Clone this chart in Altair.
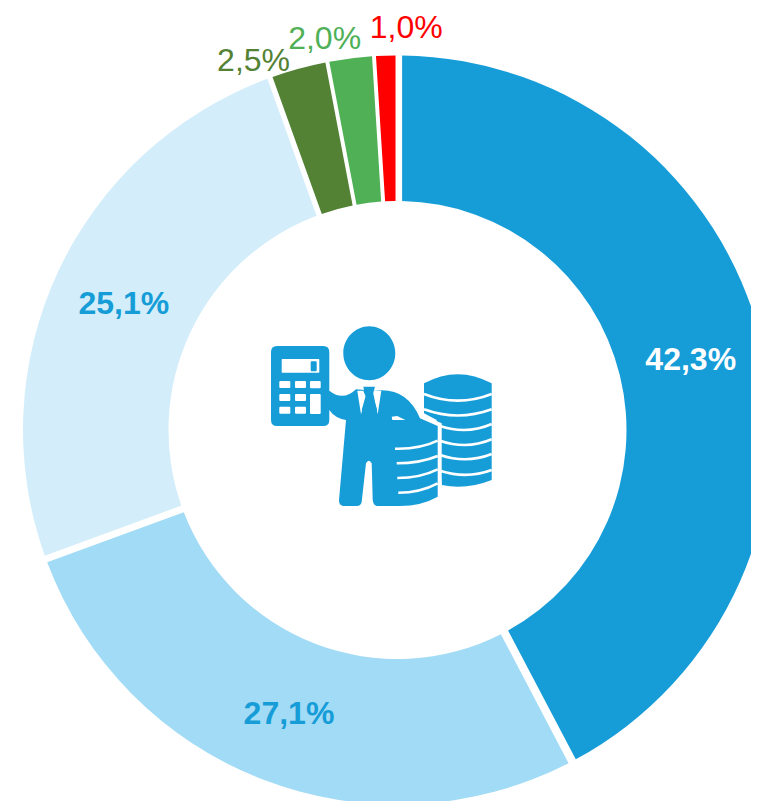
import math
import altair as alt
import pandas as pd

labels = ["42,3%", "27,1%", "25,1%", "2,5%", "2,0%", "1,0%"]
values = [42.3, 27.1, 25.1, 2.5, 2.0, 1.0]
colors = ["#169dd8", "#a2dbf5", "#d3eefa", "#548235", "#4fb056", "#ff0000"]
text_colors = ["#ffffff", "#169dd8", "#169dd8", "#548235", "#4fb056", "#ff0000"]

starts, ends = [], []
total = 0.0
for v in values:
    starts.append(total)
    total += v
    ends.append(total)
df = pd.DataFrame({"label": labels, "value": values, "start": starts, "end": ends,
                   "mid": [(a + b) / 2 for a, b in zip(starts, ends)],
                   "color": colors, "text_color": text_colors})

CX, CY = 397.5, 430.0
X0, Y0 = CX - 8, CY - 8
theta_scale = alt.Scale(domain=[0, 100], range=[0, 2 * math.pi])
FONT = "Liberation Sans"


def z(x, y):
    """zoomed-crop coordinates of the icon -> path units around the ring's centre"""
    return f"{260 + x / 3 - CX:.1f} {320 + y / 3 - CY:.1f}"


def poly(pts):
    return "M" + " L".join(z(*p) for p in pts) + " Z"


def rrect(x0, y0, x1, y1, r):
    return (f"M{z(x0 + r, y0)} L{z(x1 - r, y0)} Q{z(x1, y0)} {z(x1, y0 + r)} "
            f"L{z(x1, y1 - r)} Q{z(x1, y1)} {z(x1 - r, y1)} L{z(x0 + r, y1)} "
            f"Q{z(x0, y1)} {z(x0, y1 - r)} L{z(x0, y0 + r)} Q{z(x0, y0)} {z(x0 + r, y0)} Z")


def ell(cx, cy, rx, ry):
    return (f"M{z(cx - rx, cy)} C{z(cx - rx, cy - ry * .55)} {z(cx - rx * .55, cy - ry)} {z(cx, cy - ry)} "
            f"C{z(cx + rx * .55, cy - ry)} {z(cx + rx, cy - ry * .55)} {z(cx + rx, cy)} "
            f"C{z(cx + rx, cy + ry * .55)} {z(cx + rx * .55, cy + ry)} {z(cx, cy + ry)} "
            f"C{z(cx - rx * .55, cy + ry)} {z(cx - rx, cy + ry * .55)} {z(cx - rx, cy)} Z")


def curve(x0, y0, xm, ym, x1, y1):
    return f"M{z(x0, y0)} Q{z(xm, ym)} {z(x1, y1)}"


back_stack = (f"M{z(492, 190)} Q{z(593, 135)} {z(695, 190)} L{z(695, 480)} "
              f"Q{z(620, 510)} {z(545, 495)} L{z(530, 300)} L{z(492, 280)} Z")
back_lines = " ".join([
    curve(492, 222, 593, 262, 695, 222),
    curve(492, 268, 593, 305, 695, 268),
    curve(540, 318, 620, 345, 695, 312),
    curve(540, 362, 620, 390, 695, 358),
    curve(540, 405, 620, 432, 695, 402),
    curve(540, 452, 620, 478, 695, 450),
])
halo = poly([(470, 280), (500, 290), (545, 310), (545, 540), (500, 570), (400, 570), (400, 300)])
person = " ".join([
    ell(328, 100, 78, 81),
    rrect(33, 78, 208, 318, 18),
    "M" + z(208, 212) + f" Q{z(250, 245)} {z(288, 208)} L{z(345, 212)} Q{z(440, 200)} {z(480, 295)} "
    + f"L{z(533, 318)} L{z(533, 530)} Q{z(480, 560)} {z(410, 558)} L{z(350, 558)} "
    + f"Q{z(340, 556)} {z(338, 540)} L{z(335, 430)} Q{z(326, 415)} {z(318, 430)} "
    + f"L{z(305, 545)} Q{z(302, 558)} {z(290, 558)} L{z(250, 558)} Q{z(236, 556)} {z(237, 540)} "
    + f"L{z(258, 300)} Q{z(225, 295)} {z(208, 270)} Z",
])
white_fill = " ".join(
    [rrect(65, 117, 178, 158, 2)]
    + [rrect(x, y, x + 33, y + 21, 3) for y in (183, 222, 260) for x in (58, 105)]
    + [rrect(150, 183, 182, 205, 3), rrect(150, 222, 182, 282, 3)]
    + [poly([(292, 212), (303, 283), (318, 232), (310, 212)]),
       poly([(338, 212), (353, 283), (364, 212)]),
       poly([(395, 290), (412, 288), (436, 300), (397, 300)])]
)
tie = " ".join([
    poly([(310, 200), (345, 200), (338, 224), (316, 224)]),
    poly([(318, 224), (336, 224), (352, 270), (328, 292), (305, 270)]),
    rrect(152, 124, 170, 154, 3),
])
front_lines = " ".join([
    curve(405, 386, 480, 388, 533, 362),
    curve(410, 430, 480, 430, 533, 408),
    curve(412, 474, 480, 474, 533, 448),
    curve(415, 518, 480, 518, 533, 490),
])

base = alt.Chart(df)
pos = {"x": alt.value(X0), "y": alt.value(Y0)}


def ring_layer(names, pad):
    return base.transform_filter(alt.FieldOneOfPredicate("label", names)).mark_arc(
        radius=374.5, radius2=229, padAngle=pad
    ).encode(
        theta=alt.Theta("start:Q", scale=theta_scale),
        theta2=alt.Theta2("end:Q"),
        color=alt.Color("color:N", scale=None),
        **pos,
    )


def label_layer(names, bold, radius, dx=0, dy=0):
    return base.transform_filter(alt.FieldOneOfPredicate("label", names)).mark_text(
        radius=radius, font=FONT, fontSize=32, fontWeight="bold" if bold else "normal",
        align="center", baseline="middle", dx=dx, dy=dy,
    ).encode(
        theta=alt.Theta("mid:Q", scale=theta_scale),
        text="label:N",
        color=alt.Color("text_color:N", scale=None),
        **pos,
    )


def shape_layer(path, fill=None, stroke=None, width=0):
    kw = dict(shape=path, size=4, opacity=1)
    if fill:
        kw.update(filled=True, fill=fill, strokeWidth=0)
    else:
        kw.update(filled=False, stroke=stroke, strokeWidth=width)
    return alt.Chart(pd.DataFrame({"i": [0]})).mark_point(**kw).encode(**pos)


BLUE = colors[0]
chart = alt.layer(
    ring_layer(labels[:1], 0.021),
    ring_layer(labels[1:3], 0.016),
    ring_layer(labels[3:], 0.009),
    label_layer(labels[:3], True, 302, 0, 2),
    label_layer([labels[3]], False, 390, -41, 7),
    label_layer([labels[4]], False, 390, -24, -4),
    label_layer([labels[5]], False, 390, 21, -12),
    shape_layer(back_stack, fill=BLUE),
    shape_layer(back_lines, stroke="#ffffff", width=2.6),
    shape_layer(halo, fill="#ffffff"),
    shape_layer(person, fill=BLUE),
    shape_layer(white_fill, fill="#ffffff"),
    shape_layer(tie, fill=BLUE),
    shape_layer(front_lines, stroke="#ffffff", width=2.6),
).properties(width=743, height=793, padding=0, background="#ffffff",
             autosize=alt.AutoSizeParams(type="none", contains="padding")).configure_view(stroke=None)

chart.save("out.html", embed_options={"renderer": "svg", "actions": False})
